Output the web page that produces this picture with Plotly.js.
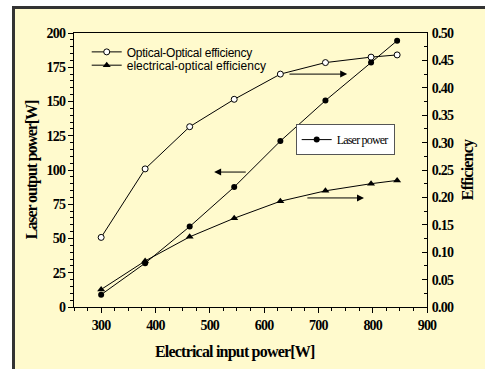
<!DOCTYPE html>
<html>
<head>
<meta charset="utf-8">
<script src="https://cdn.plot.ly/plotly-3.0.1.min.js"></script>
<style>
html,body{margin:0;padding:0;background:#fff;}
#wrap{position:relative;width:485px;height:369px;overflow:hidden;background:#fff;}
#frame{position:absolute;left:12px;top:6px;width:480px;height:370px;border:3px solid #333;background:#FFFACD;box-sizing:border-box;}
#plot{position:absolute;left:0;top:0;width:485px;height:369px;}
.xtick text, .ytick text, .y2tick text {letter-spacing:-0.8px;}
.legendtext {letter-spacing:-0.25px;}
.ytitle {letter-spacing:-1.1px;}
.y2title {letter-spacing:-0.8px;}
.annotation-text {letter-spacing:-0.8px;}
</style>
</head>
<body>
<div id="wrap"><div id="frame"></div><div id="plot"></div></div>
<script>
const inputPower = [300, 381, 463, 545, 630, 713, 797, 845];
const laserPower = [9.0, 32.0, 58.7, 87.6, 121.1, 150.7, 178.4, 194.4];
const opticalOpticalEff = [0.127, 0.252, 0.329, 0.379, 0.425, 0.446, 0.456, 0.460];
const electricalOpticalEff = [0.032, 0.084, 0.128, 0.162, 0.193, 0.212, 0.225, 0.231];

const serif = 'Liberation Serif, Times New Roman, serif';
const sans = 'Liberation Sans, Arial, sans-serif';

const traces = [
  {x: inputPower, y: opticalOpticalEff, yaxis: 'y2', name: 'Optical-Optical efficiency', mode: 'lines+markers',
   line: {color: '#000', width: 1}, marker: {symbol: 'circle', size: 6, color: '#fff', line: {color: '#000', width: 1}}, legend: 'legend'},
  {x: inputPower, y: electricalOpticalEff, yaxis: 'y2', name: 'electrical-optical efficiency', mode: 'lines+markers',
   line: {color: '#000', width: 1}, marker: {symbol: 'triangle-up', size: 7, color: '#000'}, legend: 'legend3'},
  {x: inputPower, y: laserPower, yaxis: 'y', name: '<span style="letter-spacing:-0.8px">Laser power</span>', mode: 'lines+markers',
   line: {color: '#000', width: 1}, marker: {symbol: 'circle', size: 6, color: '#000'}, legend: 'legend2'}
];

const tickFont = {family: serif, size: 14, color: '#000', weight: 'bold'};
const titleFont = {family: serif, size: 16, color: '#000', weight: 'bold'};
const legFont = {family: sans, size: 12, color: '#000'};

const arrowStyle = {xref: 'x', yref: 'y', axref: 'x', ayref: 'y', text: '', showarrow: true, arrowhead: 2, arrowsize: 1.4, arrowwidth: 1, arrowcolor: '#000', standoff: 0};

const layout = {
  width: 485, height: 369,
  margin: {l: 74, r: 58, t: 33, b: 62},
  paper_bgcolor: 'rgba(0,0,0,0)',
  plot_bgcolor: 'rgba(0,0,0,0)',
  showlegend: true,
  xaxis: {
    range: [250, 900], dtick: 100, tick0: 0, ticks: 'outside', ticklen: 5, tickwidth: 1, tickcolor: '#000',
    minor: {dtick: 25, ticks: 'outside', ticklen: 3, tickcolor: '#000'},
    showline: true, linecolor: '#000', linewidth: 1, mirror: true, showgrid: false, zeroline: false,
    tickfont: tickFont
  },
  yaxis: {
    range: [0, 200], dtick: 25, ticks: 'outside', ticklen: 5, tickwidth: 1, tickcolor: '#000',
    minor: {dtick: 5, ticks: 'outside', ticklen: 3, tickcolor: '#000'},
    showline: true, linecolor: '#000', linewidth: 1, showgrid: false, zeroline: false,
    tickfont: tickFont,
    title: {text: 'Laser output power[W]', font: titleFont, standoff: 4}
  },
  yaxis2: {
    overlaying: 'y', side: 'right', range: [0, 0.5], dtick: 0.05, tickformat: '.2f',
    ticks: 'inside', ticklen: 5, tickwidth: 1, tickcolor: '#000',
    minor: {dtick: 0.025, ticks: 'inside', ticklen: 3, tickcolor: '#000'},
    showline: true, linecolor: '#000', linewidth: 1, showgrid: false, zeroline: false,
    tickfont: tickFont, ticklabelstandoff: 1,
    title: {text: 'Efficiency', font: titleFont, standoff: 8}
  },
  legend: {
    x: 0.036, y: 0.984, xanchor: 'left', yanchor: 'top', bgcolor: 'rgba(0,0,0,0)', borderwidth: 0,
    font: legFont, itemwidth: 30
  },
  legend3: {
    x: 0.036, y: 0.9355, xanchor: 'left', yanchor: 'top', bgcolor: 'rgba(0,0,0,0)', borderwidth: 0,
    font: legFont, itemwidth: 30
  },
  legend2: {
    x: 0.628, y: 0.6675, xanchor: 'left', yanchor: 'top', bgcolor: '#fff', bordercolor: '#555', borderwidth: 1,
    font: {family: serif, size: 12, color: '#000'}, itemwidth: 30
  },
  annotations: [
    Object.assign({x: 753, y: 170, ax: 644, ay: 170}, arrowStyle),
    Object.assign({x: 508, y: 98.5, ax: 569, ay: 98.5}, arrowStyle),
    Object.assign({x: 784, y: 79.6, ax: 677, ay: 79.6}, arrowStyle),
    {xref: 'paper', yref: 'paper', x: 0.456, y: -0.166, xanchor: 'center', yanchor: 'middle', showarrow: false,
     text: 'Electrical input power[W]', font: {family: serif, size: 16, color: '#000', weight: 'bold'}}
  ]
};

Plotly.newPlot('plot', traces, layout, {displayModeBar: false, staticPlot: true});
</script>
</body>
</html>
